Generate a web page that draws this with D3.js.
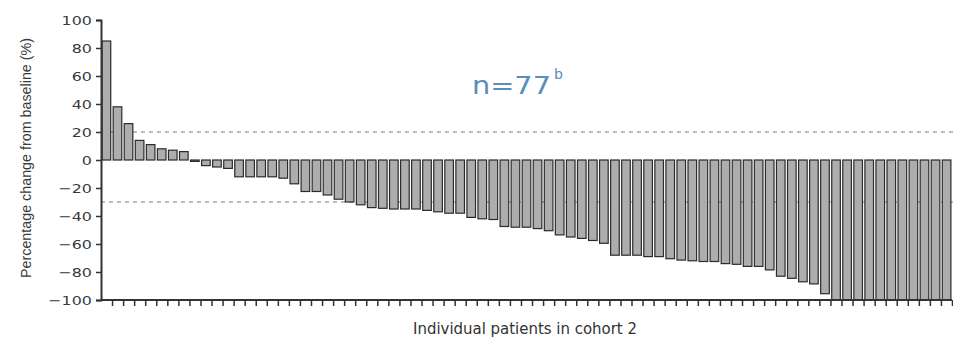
<!DOCTYPE html>
<html>
<head>
<meta charset="utf-8">
<script src="https://cdn.jsdelivr.net/npm/d3@7"></script>
<style>
  html, body { margin: 0; padding: 0; background: #fff; }
  svg { display: block; }
</style>
</head>
<body>
<svg id="chart" width="953" height="340"></svg>
<script>
// Best percentage change from baseline, one value per patient (sorted waterfall)
const patients = d3.range(1, 78);
const changes = [
  85, 38, 26, 14, 11, 8, 7, 6, -1, -4,
  -5, -6, -12, -12, -12, -12, -13, -17, -22.5, -22.5,
  -25, -28, -30, -32, -34, -34.5, -35, -35, -35, -36,
  -37, -38, -38, -41, -42, -42.5, -47.5, -48, -48, -49,
  -50.5, -53.5, -55, -56, -57.5, -59.5, -68, -68, -68, -69,
  -69, -70.5, -71.5, -72, -72.5, -72.5, -74, -74.5, -76, -76,
  -78.5, -83, -84.5, -87, -88.5, -95.5, -100, -100, -100, -100,
  -100, -100, -100, -100, -100, -100, -100
];
const yTicks = [-100, -80, -60, -40, -20, 0, 20, 40, 60, 80, 100];
const thresholds = [20, -30];
const yTitle = "Percentage change from baseline (%)";
const xTitle = "Individual patients in cohort 2";

const svg = d3.select("#chart");
const plotLeft = 101, plotRight = 952, plotTop = 20, plotBottom = 300;

const x = d3.scaleBand().domain(patients).range([plotLeft, plotRight]).paddingInner(0.22).paddingOuter(0.1);
const xEdge = d3.scaleLinear().domain([0, patients.length]).range([plotLeft, plotRight]);
const y = d3.scaleLinear().domain([-100, 100]).range([plotBottom, plotTop]);

// Response thresholds
svg.append("g").selectAll("line").data(thresholds).join("line")
  .attr("x1", plotLeft).attr("x2", 953)
  .attr("y1", d => y(d)).attr("y2", d => y(d))
  .attr("stroke", "#a6a6a6").attr("stroke-width", 1.3)
  .attr("stroke-dasharray", "4,4");

// Bars
svg.append("g").selectAll("rect").data(changes).join("rect")
  .attr("x", (d, i) => x(patients[i]))
  .attr("width", x.bandwidth())
  .attr("y", d => y(Math.max(0, d)))
  .attr("height", d => Math.abs(y(d) - y(0)))
  .attr("fill", "#adadad")
  .attr("stroke", "#2b2b2b")
  .attr("stroke-width", 1.2);

// Y axis
const yAxis = svg.append("g")
  .attr("transform", `translate(${plotLeft},0)`)
  .call(d3.axisLeft(y).tickValues(yTicks).tickSize(5).tickPadding(3));
yAxis.select(".domain").attr("stroke", "#333").attr("stroke-width", 2);
yAxis.selectAll(".tick line").attr("stroke", "#333").attr("stroke-width", 1.5);
yAxis.selectAll(".tick text")
  .attr("x", -7.5)
  .attr("transform", "scale(1.22,1)")
  .attr("font-family", "DejaVu Sans, sans-serif")
  .attr("font-size", 13)
  .attr("fill", "#3a3a3a");

// X axis with a tick between each patient
const xAxis = svg.append("g")
  .attr("transform", `translate(0,${plotBottom})`)
  .call(d3.axisBottom(xEdge).tickValues(d3.range(1, patients.length + 1)).tickSize(6).tickFormat(""));
xAxis.select(".domain").attr("stroke", "#333").attr("stroke-width", 2).attr("d", `M${plotLeft},0H${plotRight}`);
xAxis.selectAll(".tick line").attr("stroke", "#333").attr("stroke-width", 1.5);

// Axis titles
svg.append("text")
  .attr("transform", `translate(31,${(plotTop + plotBottom) / 2 - 2}) rotate(-90)`)
  .attr("text-anchor", "middle")
  .attr("font-family", "Liberation Sans Narrow, Arial Narrow, sans-serif")
  .attr("font-size", 14)
  .attr("fill", "#3a3a3a")
  .attr("textLength", 240)
  .attr("lengthAdjust", "spacingAndGlyphs")
  .text(yTitle);

svg.append("text")
  .attr("x", 525).attr("y", 334)
  .attr("text-anchor", "middle")
  .attr("font-family", "DejaVu Sans, sans-serif")
  .attr("font-size", 15)
  .attr("fill", "#333")
  .attr("textLength", 224)
  .attr("lengthAdjust", "spacingAndGlyphs")
  .text(xTitle);

// Cohort size annotation
const note = svg.append("text")
  .attr("x", 472).attr("y", 94)
  .attr("font-family", "DejaVu Sans, sans-serif")
  .attr("font-size", 25)
  .attr("fill", "#5b8db8");
note.append("tspan").attr("textLength", 79).attr("lengthAdjust", "spacingAndGlyphs").text("n=77");
note.append("tspan").attr("font-size", 14).attr("dx", 3).attr("dy", -15).text("b");
</script>
</body>
</html>
